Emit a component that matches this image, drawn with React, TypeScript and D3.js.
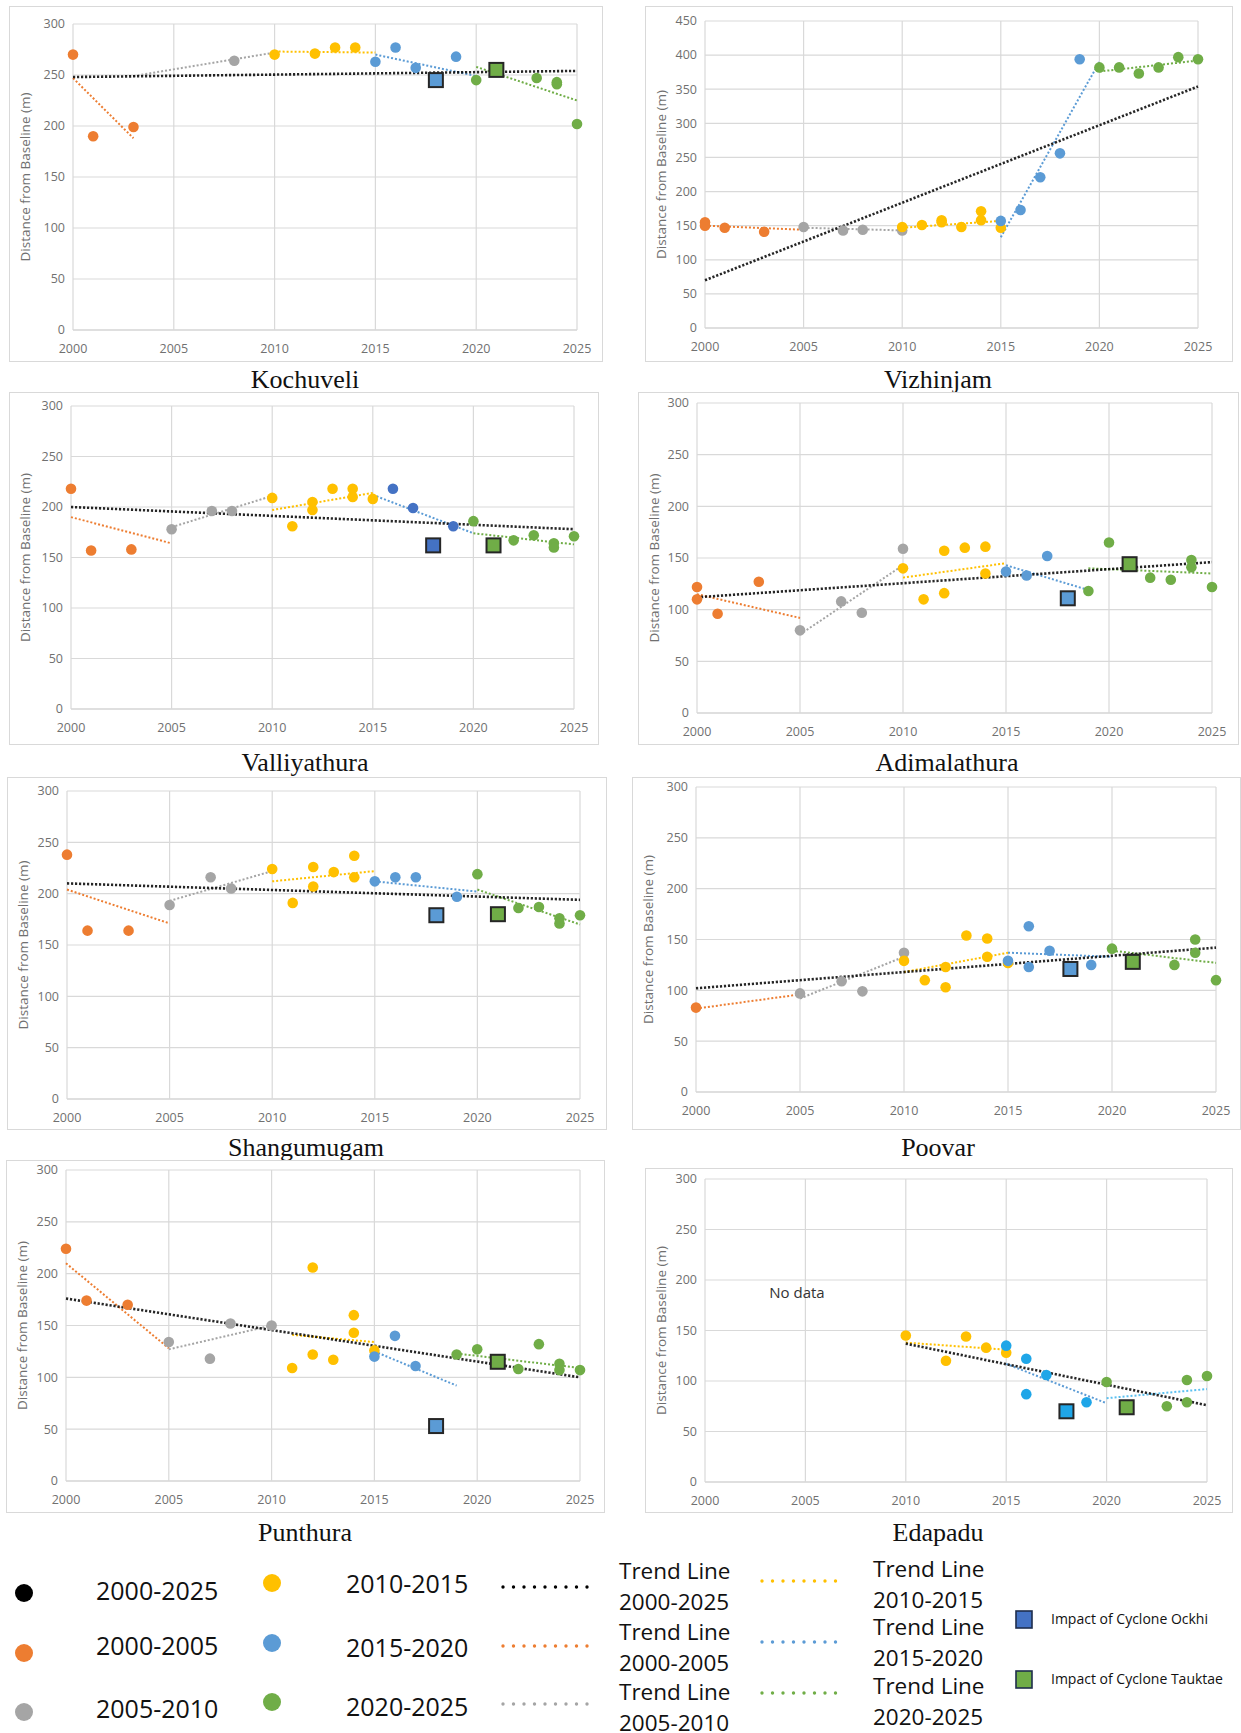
import React from "react";
import * as d3 from "d3";

// [year, distance, period]
type Pt = [number, number, string];
// [period, x1, y1, x2, y2]
type Tr = [string, number, number, number, number];
// [year, distance, cyclone]
type Cy = [number, number, string];

const xTicks = [2000, 2005, 2010, 2015, 2020, 2025];

const periods = ["2000-2025", "2000-2005", "2005-2010", "2010-2015", "2015-2020", "2020-2025"];
const periodColors = ["#000000", "#ED7D31", "#A5A5A5", "#FFC000", "#5B9BD5", "#70AD47"];
const cycloneNames = ["Ockhi", "Tauktae"];

const kochuveliPoints: Pt[] = [
  [2000, 270, "2000-2005"], [2001, 190, "2000-2005"], [2003, 199, "2000-2005"],
  [2008, 264, "2005-2010"],
  [2010, 270, "2010-2015"], [2012, 271, "2010-2015"], [2013, 277, "2010-2015"], [2014, 277, "2010-2015"],
  [2015, 263, "2015-2020"], [2016, 277, "2015-2020"], [2017, 257, "2015-2020"], [2019, 268, "2015-2020"],
  [2020, 245, "2020-2025"], [2023, 247, "2020-2025"], [2024, 243, "2020-2025"], [2024, 241, "2020-2025"], [2025, 202, "2020-2025"],
];
const kochuveliTrends: Tr[] = [
  ["2000-2005", 2000, 247, 2003, 188],
  ["2005-2010", 2003, 249, 2010, 272],
  ["2010-2015", 2010, 273, 2015, 272],
  ["2015-2020", 2015, 270, 2020, 249],
  ["2020-2025", 2020, 258, 2025, 225],
  ["2000-2025", 2000, 248, 2025, 254],
];
const kochuveliCyclones: Cy[] = [[2018, 245, "Ockhi"], [2021, 255, "Tauktae"]];

const vizhinjamPoints: Pt[] = [
  [2000, 155, "2000-2005"], [2000, 150, "2000-2005"], [2001, 147, "2000-2005"], [2003, 141, "2000-2005"],
  [2005, 148, "2005-2010"], [2007, 143, "2005-2010"], [2008, 144, "2005-2010"], [2010, 143, "2005-2010"],
  [2010, 148, "2010-2015"], [2011, 151, "2010-2015"], [2012, 158, "2010-2015"], [2012, 155, "2010-2015"],
  [2013, 148, "2010-2015"], [2014, 171, "2010-2015"], [2014, 158, "2010-2015"], [2015, 147, "2010-2015"],
  [2015, 157, "2015-2020"], [2016, 173, "2015-2020"], [2017, 221, "2015-2020"], [2018, 256, "2015-2020"], [2019, 394, "2015-2020"],
  [2020, 382, "2020-2025"], [2021, 382, "2020-2025"], [2022, 373, "2020-2025"], [2023, 382, "2020-2025"], [2024, 397, "2020-2025"], [2025, 394, "2020-2025"],
];
const vizhinjamTrends: Tr[] = [
  ["2000-2005", 2000, 150, 2005, 144],
  ["2005-2010", 2005, 147, 2010, 143],
  ["2010-2015", 2010, 147, 2015, 157],
  ["2015-2020", 2015, 133, 2020, 390],
  ["2020-2025", 2020, 376, 2025, 392],
  ["2000-2025", 2000, 70, 2025, 354],
];
const vizhinjamCyclones: Cy[] = [];

const valliyathuraPoints: Pt[] = [
  [2000, 218, "2000-2005"], [2001, 157, "2000-2005"], [2003, 158, "2000-2005"],
  [2005, 178, "2005-2010"], [2007, 196, "2005-2010"], [2008, 196, "2005-2010"],
  [2010, 209, "2010-2015"], [2011, 181, "2010-2015"], [2012, 205, "2010-2015"], [2012, 197, "2010-2015"],
  [2013, 218, "2010-2015"], [2014, 218, "2010-2015"], [2014, 210, "2010-2015"], [2015, 208, "2010-2015"],
  [2016, 218, "2015-2020"], [2017, 199, "2015-2020"], [2019, 181, "2015-2020"],
  [2020, 186, "2020-2025"], [2022, 167, "2020-2025"], [2023, 172, "2020-2025"], [2024, 164, "2020-2025"], [2024, 160, "2020-2025"], [2025, 171, "2020-2025"],
];
const valliyathuraTrends: Tr[] = [
  ["2000-2005", 2000, 190, 2005, 164],
  ["2005-2010", 2005, 180, 2010, 211],
  ["2010-2015", 2010, 197, 2015, 214],
  ["2015-2020", 2015, 212, 2020, 174],
  ["2020-2025", 2020, 174, 2025, 163],
  ["2000-2025", 2000, 200, 2025, 178],
];
const valliyathuraCyclones: Cy[] = [[2018, 162, "Ockhi"], [2021, 162, "Tauktae"]];

const adimalathuraPoints: Pt[] = [
  [2000, 122, "2000-2005"], [2000, 110, "2000-2005"], [2001, 96, "2000-2005"], [2003, 127, "2000-2005"],
  [2005, 80, "2005-2010"], [2007, 108, "2005-2010"], [2008, 97, "2005-2010"], [2010, 159, "2005-2010"],
  [2010, 140, "2010-2015"], [2011, 110, "2010-2015"], [2012, 157, "2010-2015"], [2012, 116, "2010-2015"],
  [2013, 160, "2010-2015"], [2014, 161, "2010-2015"], [2014, 135, "2010-2015"],
  [2015, 137, "2015-2020"], [2016, 133, "2015-2020"], [2017, 152, "2015-2020"],
  [2019, 118, "2020-2025"], [2020, 165, "2020-2025"], [2022, 131, "2020-2025"], [2023, 129, "2020-2025"],
  [2024, 148, "2020-2025"], [2024, 141, "2020-2025"], [2025, 122, "2020-2025"],
];
const adimalathuraTrends: Tr[] = [
  ["2000-2005", 2000, 115, 2005, 92],
  ["2005-2010", 2005, 76, 2010, 143],
  ["2010-2015", 2010, 131, 2015, 145],
  ["2015-2020", 2015, 143, 2019, 119],
  ["2020-2025", 2019, 140, 2025, 135],
  ["2000-2025", 2000, 112, 2025, 146],
];
const adimalathuraCyclones: Cy[] = [[2018, 111, "Ockhi"], [2021, 144, "Tauktae"]];

const shangumugamPoints: Pt[] = [
  [2000, 238, "2000-2005"], [2001, 164, "2000-2005"], [2003, 164, "2000-2005"],
  [2005, 189, "2005-2010"], [2007, 216, "2005-2010"], [2008, 205, "2005-2010"],
  [2010, 224, "2010-2015"], [2011, 191, "2010-2015"], [2012, 226, "2010-2015"], [2012, 207, "2010-2015"],
  [2013, 221, "2010-2015"], [2014, 237, "2010-2015"], [2014, 216, "2010-2015"],
  [2015, 212, "2015-2020"], [2016, 216, "2015-2020"], [2017, 216, "2015-2020"], [2019, 197, "2015-2020"],
  [2020, 219, "2020-2025"], [2022, 186, "2020-2025"], [2023, 187, "2020-2025"], [2024, 176, "2020-2025"], [2024, 171, "2020-2025"], [2025, 179, "2020-2025"],
];
const shangumugamTrends: Tr[] = [
  ["2000-2005", 2000, 204, 2005, 171],
  ["2005-2010", 2005, 193, 2010, 222],
  ["2010-2015", 2010, 212, 2015, 222],
  ["2015-2020", 2015, 212, 2020, 202],
  ["2020-2025", 2020, 204, 2025, 170],
  ["2000-2025", 2000, 210, 2025, 194],
];
const shangumugamCyclones: Cy[] = [[2018, 179, "Ockhi"], [2021, 180, "Tauktae"]];

const poovarPoints: Pt[] = [
  [2000, 83, "2000-2005"],
  [2005, 97, "2005-2010"], [2007, 109, "2005-2010"], [2008, 99, "2005-2010"], [2010, 137, "2005-2010"],
  [2010, 129, "2010-2015"], [2011, 110, "2010-2015"], [2012, 123, "2010-2015"], [2012, 103, "2010-2015"],
  [2013, 154, "2010-2015"], [2014, 151, "2010-2015"], [2014, 133, "2010-2015"], [2015, 127, "2010-2015"],
  [2015, 129, "2015-2020"], [2016, 163, "2015-2020"], [2016, 123, "2015-2020"], [2017, 139, "2015-2020"], [2019, 125, "2015-2020"],
  [2020, 141, "2020-2025"], [2023, 125, "2020-2025"], [2024, 150, "2020-2025"], [2024, 137, "2020-2025"], [2025, 110, "2020-2025"],
];
const poovarTrends: Tr[] = [
  ["2000-2005", 2000, 82, 2005, 96],
  ["2005-2010", 2005, 92, 2010, 133],
  ["2010-2015", 2010, 118, 2015, 137],
  ["2015-2020", 2015, 137, 2020, 133],
  ["2020-2025", 2020, 139, 2025, 127],
  ["2000-2025", 2000, 102, 2025, 142],
];
const poovarCyclones: Cy[] = [[2018, 121, "Ockhi"], [2021, 128, "Tauktae"]];

const punthuraPoints: Pt[] = [
  [2000, 224, "2000-2005"], [2001, 174, "2000-2005"], [2003, 170, "2000-2005"],
  [2005, 134, "2005-2010"], [2007, 118, "2005-2010"], [2008, 152, "2005-2010"], [2010, 150, "2005-2010"],
  [2011, 109, "2010-2015"], [2012, 206, "2010-2015"], [2012, 122, "2010-2015"], [2013, 117, "2010-2015"],
  [2014, 160, "2010-2015"], [2014, 143, "2010-2015"], [2015, 126, "2010-2015"],
  [2015, 120, "2015-2020"], [2016, 140, "2015-2020"], [2017, 111, "2015-2020"],
  [2019, 122, "2020-2025"], [2020, 127, "2020-2025"], [2022, 108, "2020-2025"], [2023, 132, "2020-2025"],
  [2024, 113, "2020-2025"], [2024, 107, "2020-2025"], [2025, 107, "2020-2025"],
];
const punthuraTrends: Tr[] = [
  ["2000-2005", 2000, 210, 2005, 128],
  ["2005-2010", 2005, 127, 2010, 150],
  ["2010-2015", 2011, 141, 2015, 134],
  ["2015-2020", 2015, 125, 2019, 92],
  ["2020-2025", 2019, 123, 2025, 109],
  ["2000-2025", 2000, 176, 2025, 100],
];
const punthuraCyclones: Cy[] = [[2018, 53, "Ockhi"], [2021, 115, "Tauktae"]];

const edapaduPoints: Pt[] = [
  [2010, 145, "2010-2015"], [2012, 120, "2010-2015"], [2013, 144, "2010-2015"], [2014, 133, "2010-2015"], [2015, 128, "2010-2015"],
  [2015, 135, "2015-2020"], [2016, 122, "2015-2020"], [2016, 87, "2015-2020"], [2017, 106, "2015-2020"], [2019, 79, "2015-2020"],
  [2020, 99, "2020-2025"], [2023, 75, "2020-2025"], [2024, 101, "2020-2025"], [2024, 79, "2020-2025"], [2025, 105, "2020-2025"],
];
const edapaduTrends: Tr[] = [
  ["2010-2015", 2010, 138, 2015, 131],
  ["2015-2020", 2015, 117, 2020, 78],
  ["2020-2025", 2020, 83, 2025, 92],
  ["2000-2025", 2010, 137, 2025, 76],
];
const edapaduCyclones: Cy[] = [[2018, 70, "Ockhi"], [2021, 74, "Tauktae"]];
const edapaduNote: [number, number, string] = [2003.2, 187, "No data"];

// layout: box and plot as [x0, y0, x1, y1]
const panels = [
  { name: "Kochuveli", points: kochuveliPoints, trends: kochuveliTrends, cyclones: kochuveliCyclones, yMax: 300,
    box: [9, 6, 602, 361], plot: [73, 24, 577, 330], title: [305, 379] },
  { name: "Vizhinjam", points: vizhinjamPoints, trends: vizhinjamTrends, cyclones: vizhinjamCyclones, yMax: 450,
    box: [645, 6, 1232, 361], plot: [705, 21, 1198, 328], title: [938, 379] },
  { name: "Valliyathura", points: valliyathuraPoints, trends: valliyathuraTrends, cyclones: valliyathuraCyclones, yMax: 300,
    box: [9, 392, 598, 744], plot: [71, 406, 574, 709], title: [305, 762], blue: "#4472C4" },
  { name: "Adimalathura", points: adimalathuraPoints, trends: adimalathuraTrends, cyclones: adimalathuraCyclones, yMax: 300,
    box: [638, 392, 1238, 744], plot: [697, 403, 1212, 713], title: [947, 762] },
  { name: "Shangumugam", points: shangumugamPoints, trends: shangumugamTrends, cyclones: shangumugamCyclones, yMax: 300,
    box: [7, 777, 606, 1129], plot: [67, 791, 580, 1099], title: [306, 1147] },
  { name: "Poovar", points: poovarPoints, trends: poovarTrends, cyclones: poovarCyclones, yMax: 300,
    box: [632, 777, 1240, 1129], plot: [696, 787, 1216, 1092], title: [938, 1147] },
  { name: "Punthura", points: punthuraPoints, trends: punthuraTrends, cyclones: punthuraCyclones, yMax: 300,
    box: [6, 1160, 604, 1512], plot: [66, 1170, 580, 1481], title: [305, 1532] },
  { name: "Edapadu", points: edapaduPoints, trends: edapaduTrends, cyclones: edapaduCyclones, yMax: 300,
    box: [645, 1168, 1232, 1512], plot: [705, 1179, 1207, 1482], title: [938, 1532],
    blue: "#1FA6E8", greenTrend: "#5BC0F0", note: edapaduNote },
];

const colorOf = (period: string, p: any) => {
  if (period === "2015-2020" && p.blue) return p.blue;
  return periodColors[periods.indexOf(period)];
};

const tickFont = "'Open Sans', 'Liberation Sans', sans-serif";

function Panel({ p }: { p: any }) {
  const [bx0, by0, bx1, by1] = p.box;
  const [px0, py0, px1, py1] = p.plot;
  const x = d3.scaleLinear().domain([2000, 2025]).range([px0, px1]);
  const y = d3.scaleLinear().domain([0, p.yMax]).range([py1, py0]);
  const yTicks = d3.range(0, p.yMax + 1, 50);
  const line = d3.line<[number, number]>().x(d => x(d[0])).y(d => y(d[1]));

  return (
    <g>
      <rect x={bx0 + 0.5} y={by0 + 0.5} width={bx1 - bx0} height={by1 - by0} fill="#fff" stroke="#d9d9d9" />
      {yTicks.map(t => (
        <line key={"h" + t} x1={px0} x2={px1} y1={y(t)} y2={y(t)} stroke={t === 0 ? "#bfbfbf" : "#d9d9d9"} strokeWidth={1.2} />
      ))}
      {xTicks.map(t => (
        <line key={"v" + t} x1={x(t)} x2={x(t)} y1={py0} y2={py1} stroke="#d9d9d9" strokeWidth={1.2} />
      ))}
      {yTicks.map(t => (
        <text key={"yt" + t} x={px0 - 8} y={y(t)} dy="0.35em" textAnchor="end" fontSize={12.5} fill="#707070" fontFamily={tickFont}>{t}</text>
      ))}
      {xTicks.map(t => (
        <text key={"xt" + t} x={x(t)} y={py1 + 19} dy="0.35em" textAnchor="middle" fontSize={12.5} fill="#707070" fontFamily={tickFont}>{t}</text>
      ))}
      <text transform={`translate(${bx0 + 16},${(py0 + py1) / 2}) rotate(-90)`} dy="0.35em" textAnchor="middle" fontSize={13.5} fill="#707070" fontFamily={tickFont}>
        Distance from Baseline (m)
      </text>
      {p.note && (
        <text x={x(p.note[0])} y={y(p.note[1])} dy="0.35em" fontSize={15} fill="#333" fontFamily={tickFont}>{p.note[2]}</text>
      )}
      {p.trends.map((t: Tr, i: number) => {
        const all = t[0] === "2000-2025";
        const stroke = t[0] === "2020-2025" && p.greenTrend ? p.greenTrend : colorOf(t[0], { blue: null });
        return (
          <path key={"tr" + i} d={line([[t[1], t[2]], [t[3], t[4]]]) || ""} fill="none" stroke={stroke}
            strokeWidth={all ? 2.6 : 2} strokeDasharray={all ? "2.2 1.8" : "2 2"} opacity={all ? 0.85 : 1} />
        );
      })}
      {p.points.map((d: Pt, i: number) => (
        <circle key={"pt" + i} cx={x(d[0])} cy={y(d[1])} r={5.3} fill={colorOf(d[2], p)} />
      ))}
      {p.cyclones.map((c: Cy, i: number) => {
        const fill = c[2] === cycloneNames[0] ? (p.blue || "#5B9BD5") : "#70AD47";
        return (
          <rect key={"cy" + i} x={x(c[0]) - 7} y={y(c[1]) - 7} width={14} height={14} fill={fill} stroke="#262626" strokeWidth={2} />
        );
      })}
      <text x={p.title[0]} y={p.title[1]} dy="0.35em" textAnchor="middle" fontSize={26} fill="#111"
        fontFamily="'Liberation Serif', 'DejaVu Serif', serif">{p.name}</text>
    </g>
  );
}

// legend entries
const legendDotRows = [
  { period: "2000-2025", cx: 24, cy: 1593, tx: 96, ty: 1591 },
  { period: "2000-2005", cx: 24, cy: 1653, tx: 96, ty: 1646 },
  { period: "2005-2010", cx: 24, cy: 1712, tx: 96, ty: 1709 },
  { period: "2010-2015", cx: 272, cy: 1583, tx: 346, ty: 1584 },
  { period: "2015-2020", cx: 272, cy: 1643, tx: 346, ty: 1648 },
  { period: "2020-2025", cx: 272, cy: 1702, tx: 346, ty: 1707 },
];
const legendLineRows = [
  { period: "2000-2025", x0: 503, x1: 589, y: 1587, tx: 619, ty: 1571 },
  { period: "2000-2005", x0: 503, x1: 589, y: 1646, tx: 619, ty: 1632 },
  { period: "2005-2010", x0: 503, x1: 589, y: 1704, tx: 619, ty: 1692 },
  { period: "2010-2015", x0: 762, x1: 845, y: 1581, tx: 873, ty: 1569 },
  { period: "2015-2020", x0: 762, x1: 845, y: 1642, tx: 873, ty: 1627 },
  { period: "2020-2025", x0: 762, x1: 845, y: 1693, tx: 873, ty: 1686 },
];
const legendCyclones = [
  { label: "Impact of Cyclone Ockhi", fill: "#4472C4", y: 1619 },
  { label: "Impact of Cyclone Tauktae", fill: "#70AD47", y: 1679 },
];

function Legend() {
  const lf = "'Open Sans', 'Liberation Sans', sans-serif";
  return (
    <g fontFamily={lf} fill="#111">
      {legendDotRows.map(r => (
        <g key={"d" + r.period}>
          <circle cx={r.cx} cy={r.cy} r={9} fill={colorOf(r.period, {})} />
          <text x={r.tx} y={r.ty} dy="0.35em" fontSize={25}>{r.period}</text>
        </g>
      ))}
      {legendLineRows.map(r => (
        <g key={"l" + r.period}>
          <line x1={r.x0} x2={r.x1} y1={r.y} y2={r.y} stroke={colorOf(r.period, {})} strokeWidth={3.4}
            strokeLinecap="round" strokeDasharray="0 10.5" />
          <text x={r.tx} y={r.ty} dy="0.35em" fontSize={22.5}>Trend Line</text>
          <text x={r.tx} y={r.ty + 31} dy="0.35em" fontSize={22.5}>{r.period}</text>
        </g>
      ))}
      {legendCyclones.map(c => (
        <g key={c.label}>
          <rect x={1016} y={c.y - 8} width={16} height={17} fill={c.fill} stroke="#1f2d4d" strokeWidth={1.6} />
          <text x={1051} y={c.y} dy="0.35em" fontSize={14}>{c.label}</text>
        </g>
      ))}
    </g>
  );
}

export default function App() {
  return (
    <svg width={1241} height={1733} style={{ position: "absolute", left: 0, top: 0, background: "#fff" }}>
      <rect width={1241} height={1733} fill="#fff" />
      {panels.map(p => <Panel key={p.name} p={p} />)}
      <Legend />
    </svg>
  );
}
